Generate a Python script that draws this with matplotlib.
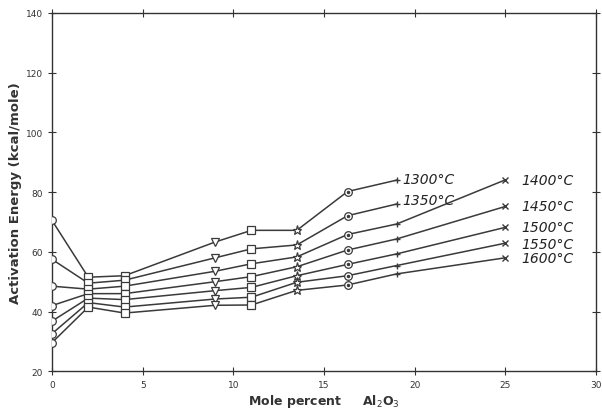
import matplotlib
matplotlib.use("Agg")
import matplotlib.pyplot as plt

# mole percent Al2O3 at which the runs were measured
x_short = [0, 2, 4, 9, 11, 13.5, 16.3, 19]
x_long = [0, 2, 4, 9, 11, 13.5, 16.3, 19, 25]

# activation energy (kcal/mole) per temperature
e1300 = [70.5, 51.5, 52.0, 63.3, 67.2, 67.2, 80.2, 84.0]
e1350 = [57.5, 49.5, 50.5, 58.0, 61.0, 62.3, 72.1, 76.0]
e1400 = [48.5, 47.5, 48.5, 53.5, 56.0, 58.3, 65.8, 69.3, 84.1]
e1450 = [42.0, 46.0, 46.0, 50.0, 51.7, 55.0, 60.6, 64.3, 75.2]
e1500 = [36.8, 44.5, 44.0, 47.0, 48.1, 52.0, 55.8, 59.3, 68.2]
e1550 = [32.6, 43.0, 41.5, 44.2, 44.8, 49.8, 52.0, 55.4, 62.9]
e1600 = [29.6, 41.5, 39.5, 42.1, 42.2, 47.1, 48.9, 52.6, 58.0]

labels = ["1300°C", "1350°C", "1400°C", "1450°C", "1500°C", "1550°C", "1600°C"]
series = [e1300, e1350, e1400, e1450, e1500, e1550, e1600]

# one marker per composition column, as in the original figure
col_markers = ["o", "s", "s", "v", "s", "*", "o", "+", "x"]

line_c = "#3a3a3a"

fig = plt.figure(figsize=(6.02, 4.10), dpi=100)
ax = fig.add_axes([0.0864, 0.092, 0.9036, 0.874])

for lab, ys in zip(labels, series):
    xs = x_short if len(ys) == len(x_short) else x_long
    ax.plot(xs, ys, color=line_c, linewidth=1.1, zorder=2)
    for i, (xv, yv) in enumerate(zip(xs, ys)):
        m = col_markers[i]
        if m in ("+", "x"):
            ax.plot(xv, yv, marker=m, color=line_c, markersize=4, mew=1.0, zorder=3)
        else:
            ax.plot(xv, yv, marker=m, markerfacecolor="white", markeredgecolor=line_c,
                    markersize=5.5 if m != "*" else 6.5, mew=0.9, zorder=3)
            if i == 6:
                ax.plot(xv, yv, marker="o", color=line_c, markersize=1.5, zorder=4)

# temperature labels next to the line ends
lab_pos = {
    "1300°C": (19.3, 84.3), "1350°C": (19.3, 77.3),
    "1400°C": (25.9, 84.1), "1450°C": (25.9, 75.2), "1500°C": (25.9, 68.4),
    "1550°C": (25.9, 62.7), "1600°C": (25.9, 57.9),
}
for lab in labels:
    px, py = lab_pos[lab]
    ax.text(px, py, lab, fontsize=10, style="italic", va="center", ha="left",
            color="#222222")

ax.set_xlim(0, 30)
ax.set_ylim(20, 140)
ax.set_xticks([0, 5, 10, 15, 20, 25, 30])
ax.set_yticks([20, 40, 60, 80, 100, 120, 140])
ax.tick_params(direction="inout", length=6, width=0.8, labelsize=6.5,
               top=True, right=True, colors="#333333")
for s in ax.spines.values():
    s.set_linewidth(1.0)
    s.set_color("#333333")

ax.set_ylabel("Activation Energy (kcal/mole)", fontsize=9.5, fontweight="bold",
              color="#333333", labelpad=3)
ax.set_xlabel("Mole percent     Al$_2$O$_3$", fontsize=9, fontweight="bold",
              color="#333333", labelpad=2)

fig.savefig("out.png", dpi=100)
